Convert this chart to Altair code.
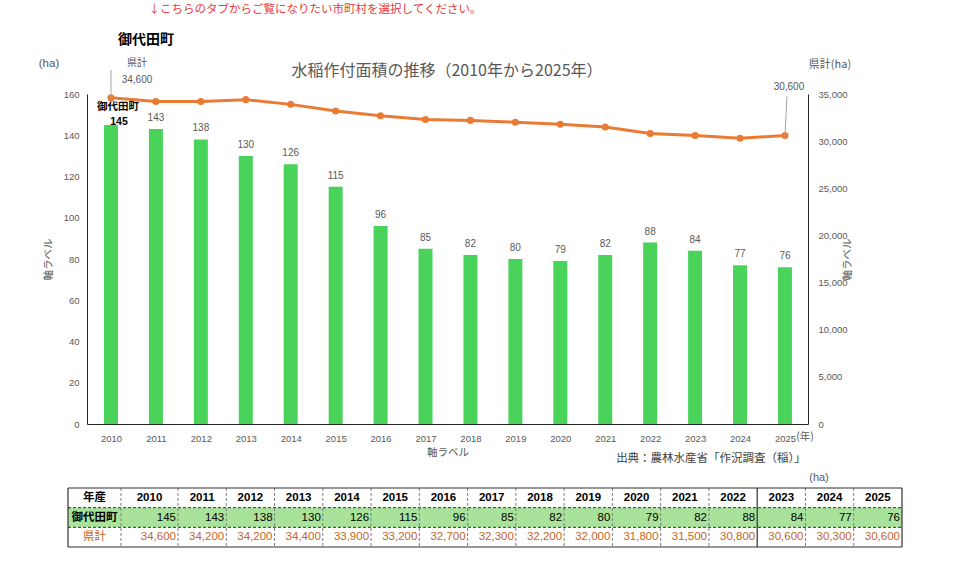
import altair as alt
import pandas as pd

# ---------------- data ----------------
years = [2010, 2011, 2012, 2013, 2014, 2015, 2016, 2017,
         2018, 2019, 2020, 2021, 2022, 2023, 2024, 2025]
town_values = [145, 143, 138, 130, 126, 115, 96, 85, 82, 80, 79, 82, 88, 84, 77, 76]
pref_values = [34600, 34200, 34200, 34400, 33900, 33200, 32700, 32300,
               32200, 32000, 31800, 31500, 30800, 30600, 30300, 30600]
left_ticks = [0, 20, 40, 60, 80, 100, 120, 140, 160]
right_ticks = [0, 5000, 10000, 15000, 20000, 25000, 30000, 35000]

TOWN = "御代田町"
PREF = "県計"
TITLE = "水稲作付面積の推移（2010年から2025年）"
NOTE = "↓こちらのタブからご覧になりたい市町村を選択してください。"
SOURCE = "出典：農林水産省「作況調査（稲）」"
AXIS_TITLE = "軸ラベル"
TABLE_HEAD = "年産"
UNIT_LEFT = "(ha)"
UNIT_RIGHT = "県計(ha)"
UNIT_YEAR = "(年)"
UNIT_TABLE = "(ha)"

# ---------------- layout / style ----------------
W, H = 721, 330
PAD = {"left": 87, "top": 94, "right": 152, "bottom": 144}
FONT_JP = "Noto Sans CJK JP"
FONT_NUM = "Liberation Sans, Noto Sans CJK JP"
GREY = "#595959"
GREEN = "#4ad35b"
ORANGE = "#ea7b34"
BROWN = "#c5651f"
TABLE_GREEN = "#a9e39b"
DARK = "#303030"

df = pd.DataFrame({"year": years, "town": town_values, "pref": pref_values})
base = alt.Chart(df)

x_enc = alt.X(
    "year:Q",
    scale=alt.Scale(domain=[2009.466, 2025.513], nice=False, zero=False, padding=0),
    axis=alt.Axis(values=years, format="d", title=AXIS_TITLE, labelFlush=False,
                  labelOverlap=False, labelPadding=9, titlePadding=5),
)
y_town = alt.Y(
    "town:Q",
    scale=alt.Scale(domain=[0, 160], nice=False),
    axis=alt.Axis(values=left_ticks, title=AXIS_TITLE, orient="left",
                  labelPadding=8, titlePadding=10),
)
y_pref = alt.Y(
    "pref:Q",
    scale=alt.Scale(domain=[0, 35000], nice=False),
    axis=alt.Axis(values=right_ticks, labelExpr="format(datum.value, ',')",
                  title=AXIS_TITLE, orient="right",
                  labelPadding=10, titlePadding=5, titleAngle=270),
)

# ---------------- bars ----------------
bars = base.mark_bar(size=14, color=GREEN).encode(x=x_enc, y=y_town)
bar_lbl = base.transform_filter("datum.year > 2010").mark_text(
    dy=-11, fontSize=10, color=GREY, font=FONT_NUM
).encode(x=x_enc, y=y_town, text="town:Q")
first_val = base.transform_filter("datum.year == 2010").mark_text(
    dx=8, dy=-3, fontSize=10.5, fontWeight="bold", color="black", font=FONT_NUM
).encode(x=x_enc, y=y_town, text="town:Q")
first_name = base.transform_filter("datum.year == 2010").transform_calculate(
    name=f"'{TOWN}'"
).mark_text(
    dx=7, dy=-18, fontSize=10.5, fontWeight="bold", color="black", font=FONT_JP
).encode(x=x_enc, y=y_town, text="name:N")
bar_grp = alt.layer(bars, bar_lbl, first_val, first_name)

# ---------------- line ----------------
line = base.mark_line(color=ORANGE, strokeWidth=3).encode(x=x_enc, y=y_pref)
pts = base.mark_circle(size=50, color=ORANGE, opacity=1).encode(x=x_enc, y=y_pref)
first_leader = base.transform_filter("datum.year == 2010").mark_rule(
    color="#a6a6a6", strokeWidth=1
).encode(x=x_enc, y=y_pref, y2=alt.value(-24))
first_pref = base.transform_filter("datum.year == 2010").mark_text(
    dx=26, dy=-18, fontSize=10, color=GREY, font=FONT_NUM
).encode(x=x_enc, y=y_pref, text=alt.Text("pref:Q", format=","))
first_pref_name = base.transform_filter("datum.year == 2010").transform_calculate(
    name=f"'{PREF}'"
).mark_text(dx=26, dy=-35, fontSize=10, color=GREY, font=FONT_JP).encode(
    x=x_enc, y=y_pref, text="name:N"
)
last_leader = base.transform_filter("datum.year == 2025").mark_rule(
    color="#a6a6a6", strokeWidth=1
).encode(x=x_enc, y=y_pref, x2=alt.value(700), y2=alt.value(2))
last_pref = base.transform_filter("datum.year == 2025").mark_text(
    dx=4, dy=-48, fontSize=10, color=GREY, font=FONT_NUM
).encode(x=x_enc, y=y_pref, text=alt.Text("pref:Q", format=","))
line_grp = alt.layer(line, pts, first_leader, first_pref, first_pref_name,
                     last_leader, last_pref)

main = alt.layer(bar_grp, line_grp).resolve_scale(y="independent")

# ---------------- table ----------------
col_units = [1.098, 1.181] + [1.0] * 15
edges = [0.0]
for w in col_units:
    edges.append(edges[-1] + w)
TOTAL = edges[-1]
tx = alt.Scale(domain=[0, TOTAL], range=[-19, 815], nice=False, zero=False)
ty = alt.Scale(domain=[0, 3], range=[394, 453], nice=False, zero=False)

cells = []
heads = [TABLE_HEAD] + [str(y) for y in years]
for c in range(17):
    x0, x1 = edges[c], edges[c + 1]
    cells.append({"r": 0, "c": c, "x0": x0, "x1": x1, "xc": (x0 + x1) / 2,
                  "yc": 0.5, "t": heads[c]})
cells.append({"r": 1, "c": 0, "x0": edges[0], "x1": edges[1],
              "xc": (edges[0] + edges[1]) / 2, "yc": 1.5, "t": TOWN})
cells.append({"r": 2, "c": 0, "x0": edges[0], "x1": edges[1],
              "xc": (edges[0] + edges[1]) / 2, "yc": 2.5, "t": PREF})
for i, y in enumerate(years):
    c = i + 1
    cells.append({"r": 1, "c": c, "x0": edges[c], "x1": edges[c + 1],
                  "xc": (edges[c] + edges[c + 1]) / 2, "yc": 1.5,
                  "t": f"{town_values[i]:,}"})
    cells.append({"r": 2, "c": c, "x0": edges[c], "x1": edges[c + 1],
                  "xc": (edges[c] + edges[c + 1]) / 2, "yc": 2.5,
                  "t": f"{pref_values[i]:,}"})
cdf = pd.DataFrame(cells)

green_bg = alt.Chart(pd.DataFrame({"x0": [0.0], "x1": [TOTAL], "y0": [1], "y1": [2]})).mark_rect(
    color=TABLE_GREEN
).encode(x=alt.X("x0:Q", scale=tx, axis=None), x2="x1:Q",
         y=alt.Y("y0:Q", scale=ty, axis=None), y2="y1:Q")

hdf = pd.DataFrame({"x0": [0.0] * 4, "x1": [TOTAL] * 4, "r": [0, 1, 2, 3],
                    "solid": [True, False, False, True]})
h_solid = alt.Chart(hdf).transform_filter("datum.solid").mark_rule(
    color=DARK, strokeWidth=1.2
).encode(x=alt.X("x0:Q", scale=tx, axis=None), x2="x1:Q",
         y=alt.Y("r:Q", scale=ty, axis=None))
h_dash = alt.Chart(hdf).transform_filter("!datum.solid").mark_rule(
    color=DARK, strokeWidth=1, strokeDash=[3, 2]
).encode(x=alt.X("x0:Q", scale=tx, axis=None), x2="x1:Q",
         y=alt.Y("r:Q", scale=ty, axis=None))

solid_cols = {0, 14, 17}  # outer edges and the edge before 2023
vdf = pd.DataFrame({"e": edges, "y0": [0] * len(edges), "y1": [3] * len(edges),
                    "solid": [i in solid_cols for i in range(len(edges))]})
v_solid = alt.Chart(vdf).transform_filter("datum.solid").mark_rule(
    color=DARK, strokeWidth=1.2
).encode(x=alt.X("e:Q", scale=tx, axis=None),
         y=alt.Y("y0:Q", scale=ty, axis=None), y2="y1:Q")
v_dash = alt.Chart(vdf).transform_filter("!datum.solid").mark_rule(
    color="#7f7f7f", strokeWidth=1, strokeDash=[3, 2]
).encode(x=alt.X("e:Q", scale=tx, axis=None),
         y=alt.Y("y0:Q", scale=ty, axis=None), y2="y1:Q")

tc = alt.Chart(cdf)
t_bold = tc.transform_filter("datum.r == 0 || (datum.r == 1 && datum.c == 0)").mark_text(
    fontSize=11.5, fontWeight="bold", color="black", font=FONT_NUM
).encode(x=alt.X("xc:Q", scale=tx, axis=None), y=alt.Y("yc:Q", scale=ty, axis=None), text="t:N")
t_pref_lbl = tc.transform_filter("datum.r == 2 && datum.c == 0").mark_text(
    fontSize=11.5, color=BROWN, font=FONT_JP
).encode(x=alt.X("xc:Q", scale=tx, axis=None), y=alt.Y("yc:Q", scale=ty, axis=None), text="t:N")
t_vals = tc.transform_filter("datum.r > 0 && datum.c > 0").mark_text(
    fontSize=11.5, align="right", dx=-2, font=FONT_NUM
).encode(
    x=alt.X("x1:Q", scale=tx, axis=None), y=alt.Y("yc:Q", scale=ty, axis=None), text="t:N",
    color=alt.condition("datum.r == 2", alt.value(BROWN), alt.value("black")),
)
table = alt.layer(green_bg, h_dash, v_dash, h_solid, v_solid, t_bold, t_pref_lbl, t_vals)


# ---------------- free annotations ----------------
def note(text, x, y, size, color, weight="normal", font=FONT_JP):
    return alt.Chart(pd.DataFrame({"t": [text]})).mark_text(
        fontSize=size, color=color, fontWeight=weight, font=font
    ).encode(x=alt.value(x), y=alt.value(y), text="t:N")


notes = [
    note(NOTE, 228, -84, 11.5, "#e8383d"),
    note(TOWN, 59, -54, 14, "black", "bold"),
    note(UNIT_LEFT, -38, -30, 11.5, GREY, font=FONT_NUM),
    note(TITLE, 360, -23, 16, GREY),
    note(UNIT_RIGHT, 743, -29, 11, GREY),
    note(UNIT_YEAR, 718, 343, 10.5, GREY),
    note(SOURCE, 624, 365, 11.5, "#404040"),
    note(UNIT_TABLE, 732, 384, 11, GREY, font=FONT_NUM),
]

chart = alt.layer(main, table, *notes).resolve_scale(
    x="independent", y="independent"
).properties(
    width=W, height=H, padding=PAD, autosize=alt.AutoSizeParams(type="none")
).configure_view(stroke=None).configure_axis(
    domainColor="#262626", domainWidth=1, ticks=False, grid=False,
    labelColor=GREY, titleColor=GREY, labelFont=FONT_NUM, titleFont=FONT_JP,
    labelFontSize=9.5, titleFontSize=10.5, titleFontWeight="normal",
)

chart.save("out.html", embed_options={"renderer": "svg", "actions": False})
